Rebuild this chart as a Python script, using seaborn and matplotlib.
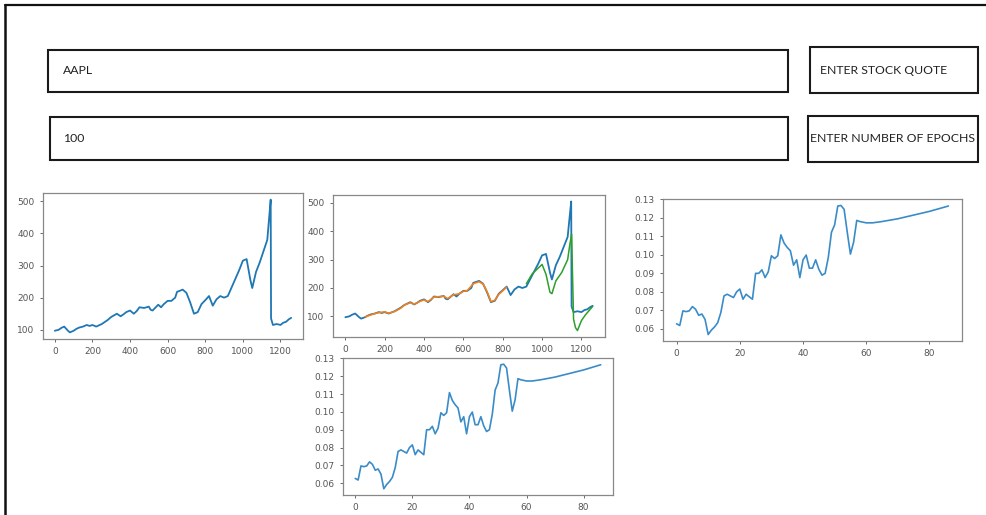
import matplotlib
matplotlib.use("Agg")
import matplotlib.pyplot as plt
import matplotlib.patches as mpatches
import seaborn as sns

sns.set_style("ticks")
plt.rcParams['font.family'] = ['DejaVu Sans']

# form fields
stock_quote = "AAPL"
epochs = "100"
button_labels = ["ENTER STOCK QUOTE", "ENTER NUMBER OF EPOCHS"]

# closing price (day index -> price)
day = [0, 20, 35, 50, 70, 80, 100, 115, 130, 150, 170, 185, 200, 220, 250, 280, 300,
       315, 330, 350, 365, 380, 400, 420, 435, 450, 475, 500, 510, 520, 550, 565,
       580, 600, 620, 640, 650, 680, 700, 720, 740, 760, 780, 800, 820, 830, 840,
       860, 880, 900, 920, 950, 980, 1000, 1020, 1040, 1050, 1070, 1090, 1110,
       1130, 1140, 1148, 1150, 1160, 1180, 1200, 1215, 1230, 1245, 1257]
price = [97, 100, 106, 110, 97, 92, 97, 103, 107, 110, 115, 112, 115, 110, 118, 130,
         140, 145, 150, 142, 148, 155, 160, 150, 158, 170, 168, 172, 162, 160, 178,
         170, 180, 190, 190, 200, 218, 225, 215, 185, 150, 155, 180, 192, 205, 190,
         175, 195, 205, 200, 205, 245, 285, 315, 320, 255, 230, 280, 310, 345, 380,
         450, 505, 135, 115, 118, 115, 122, 125, 133, 137]

# train-set prediction
train_day = [100, 130, 150, 170, 200, 220, 250, 280, 300, 330, 350, 380, 400, 420,
             450, 500, 520, 550, 580, 600, 620, 650, 680, 700, 720, 740, 760, 780,
             800, 820]
train_pred = [98, 105, 110, 113, 116, 111, 117, 128, 140, 148, 143, 153, 158, 152,
              168, 171, 163, 176, 180, 188, 191, 215, 222, 214, 188, 152, 157, 178,
              190, 203]

# test-set prediction
test_day = [920, 950, 980, 1000, 1020, 1040, 1050, 1070, 1100, 1130, 1140, 1150,
            1160, 1170, 1180, 1200, 1220, 1257]
test_pred = [215, 250, 270, 283, 248, 185, 180, 225, 255, 300, 348, 390,
             90, 60, 50, 85, 105, 135]

# training loss per epoch
epoch = [0, 1, 2, 3, 4, 5, 6, 7, 8, 9, 10, 11, 12, 13, 14, 15, 16, 17, 18, 19, 20,
         21, 22, 23, 24, 25, 26, 27, 28, 29, 30, 31, 32, 33, 34, 35, 36, 37, 38, 39,
         40, 41, 42, 43, 44, 45, 46, 47, 48, 49, 50, 51, 52, 53, 54, 55, 56, 57, 58,
         60, 62, 65, 70, 75, 80, 86]
loss = [0.0627, 0.0618, 0.0697, 0.0693, 0.0697, 0.0720, 0.0706, 0.0673, 0.0680,
        0.0651, 0.0569, 0.0593, 0.0610, 0.0633, 0.0688, 0.0778, 0.0787, 0.0778,
        0.0769, 0.0800, 0.0815, 0.0760, 0.0787, 0.0773, 0.0760, 0.0900, 0.0900,
        0.0919, 0.0877, 0.0908, 0.0995, 0.0980, 0.0995, 0.1108, 0.1064, 0.1040,
        0.1022, 0.0944, 0.0973, 0.0877, 0.0973, 0.0999, 0.0928, 0.0928, 0.0973,
        0.0922, 0.0890, 0.0900, 0.0986, 0.1122, 0.1162, 0.1264, 0.1267, 0.1246,
        0.1122, 0.1004, 0.1068, 0.1186, 0.1180, 0.1173, 0.1173, 0.1180, 0.1195,
        0.1215, 0.1235, 0.1264]

W, H = 986, 515
fig = plt.figure(figsize=(W / 100, H / 100), dpi=100)
fig.set_facecolor("white")

# background layer for the mock-up form, in pixel units
bg = fig.add_axes([0, 0, 1, 1])
bg.set_xlim(0, W)
bg.set_ylim(H, 0)
bg.axis("off")
bg.plot([5, W], [5, 5], color="#111111", lw=1.6)
bg.plot([5, 5], [5, H], color="#111111", lw=1.8)

boxes = [(48, 50, 740, 42), (810, 47, 168, 46), (50, 117, 738, 43), (808, 116, 170, 46)]
for x, y, w, h in boxes:
    bg.add_patch(mpatches.Rectangle((x, y), w, h, fill=False, ec="#1a1a1a", lw=1.5))

txt = dict(family=["Lato", "DejaVu Sans"], fontsize=8.8,
           color="#222222", va="center")
bg.text(63, 71, stock_quote, **txt)
bg.text(63, 139, epochs, **txt)
bg.text(884, 70, button_labels[0], ha="center", **txt)
bg.text(893, 139, button_labels[1], ha="center", **txt)


def style(ax, fs=6.5):
    for s in ax.spines.values():
        s.set_color("#888888")
        s.set_linewidth(0.9)
    ax.tick_params(labelsize=fs, colors="#555555", length=2.5, width=0.6)
    ax.set_xlabel("")
    ax.set_ylabel("")


blue, orange, green = "#1f77b4", "#ff7f0e", "#2ca02c"

def px(x0, y0, x1, y1):
    return [x0 / W, 1 - y1 / H, (x1 - x0) / W, (y1 - y0) / H]

# price history
ax1 = fig.add_axes(px(43, 193, 303, 339))
sns.lineplot(x=day, y=price, ax=ax1, color=blue, lw=1.3)
ax1.set_xticks([0, 200, 400, 600, 800, 1000, 1200])
ax1.set_yticks([100, 200, 300, 400, 500])
style(ax1)

# price with predictions
ax2 = fig.add_axes(px(333, 195, 605, 337))
sns.lineplot(x=day, y=price, ax=ax2, color=blue, lw=1.3)
sns.lineplot(x=train_day, y=train_pred, ax=ax2, color=orange, lw=1.1)
sns.lineplot(x=test_day, y=test_pred, ax=ax2, color=green, lw=1.1)
ax2.set_xticks([0, 200, 400, 600, 800, 1000, 1200])
ax2.set_yticks([100, 200, 300, 400, 500])
style(ax2)

# loss curves
for pos in [px(663, 199, 962, 341), px(343, 358, 613, 495)]:
    ax = fig.add_axes(pos)
    sns.lineplot(x=epoch, y=loss, ax=ax, color="#3a8cc8", lw=1.2)
    ax.set_xticks([0, 20, 40, 60, 80])
    ax.set_yticks([0.06, 0.07, 0.08, 0.09, 0.10, 0.11, 0.12, 0.13])
    ax.set_yticklabels(["0.06", "0.07", "0.08", "0.09", "0.10", "0.11", "0.12", "0.13"])
    style(ax)

fig.savefig("out.png", dpi=100)
